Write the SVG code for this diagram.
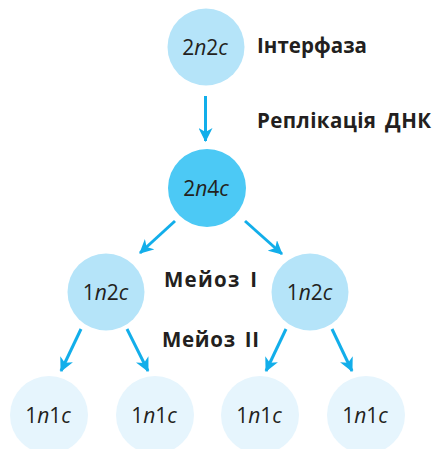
<svg xmlns="http://www.w3.org/2000/svg" width="433" height="449" viewBox="0 0 433 449">
<defs>
<marker id="ah" markerWidth="14" markerHeight="14" viewBox="0 0 14 14" refX="13" refY="7" orient="auto" markerUnits="userSpaceOnUse">
<path d="M0,0 L14,7 L0,14 L4,7 Z" fill="#12aeea"/>
</marker>
<style>
.c1{fill:#b5e4f9}
.c2{fill:#4cc9f5}
.c3{fill:#e6f5fd}
.lbl{font-family:"Open Sans","Noto Sans",sans-serif;font-size:21px;fill:#231f20;text-anchor:middle}
.lbl tspan.i{font-style:italic}
.t{font-family:"Open Sans","Noto Sans",sans-serif;font-size:20.5px;font-weight:bold;fill:#231f20;word-spacing:3px}
.ar{stroke:#12aeea;stroke-width:3;fill:none;marker-end:url(#ah)}
</style>
</defs>
<rect width="433" height="449" fill="#fff"/>
<g id="connectors">
<line class="ar" x1="205.5" y1="96" x2="205.5" y2="141"/>
<line class="ar" x1="175" y1="221" x2="140" y2="253"/>
<line class="ar" x1="245" y1="221" x2="282" y2="254"/>
<line class="ar" x1="81" y1="329" x2="61" y2="371"/>
<line class="ar" x1="127" y1="329" x2="148" y2="371"/>
<line class="ar" x1="286" y1="329" x2="266" y2="371"/>
<line class="ar" x1="332" y1="329" x2="352" y2="371"/>
</g>
<g id="n1"><circle class="c1" cx="206" cy="47" r="38.5"/><text class="lbl" x="205" y="55">2<tspan class="i">n</tspan>2<tspan class="i">c</tspan></text></g>
<g id="n2"><circle class="c2" cx="207" cy="188" r="39"/><text class="lbl" x="206" y="196">2<tspan class="i">n</tspan>4<tspan class="i">c</tspan></text></g>
<g id="n3"><circle class="c1" cx="106" cy="292" r="38.5"/><text class="lbl" x="105.5" y="300">1<tspan class="i">n</tspan>2<tspan class="i">c</tspan></text></g>
<g id="n4"><circle class="c1" cx="310" cy="292" r="38.5"/><text class="lbl" x="309.5" y="300">1<tspan class="i">n</tspan>2<tspan class="i">c</tspan></text></g>
<g id="n5"><circle class="c3" cx="49" cy="415" r="39"/><text class="lbl" x="48" y="423">1<tspan class="i">n</tspan>1<tspan class="i">c</tspan></text></g>
<g id="n6"><circle class="c3" cx="155" cy="415" r="39"/><text class="lbl" x="154" y="423">1<tspan class="i">n</tspan>1<tspan class="i">c</tspan></text></g>
<g id="n7"><circle class="c3" cx="260" cy="415" r="39"/><text class="lbl" x="259" y="423">1<tspan class="i">n</tspan>1<tspan class="i">c</tspan></text></g>
<g id="n8"><circle class="c3" cx="366" cy="415" r="39"/><text class="lbl" x="365" y="423">1<tspan class="i">n</tspan>1<tspan class="i">c</tspan></text></g>
<g id="labels">
<text class="t" x="257" y="53" textLength="110" lengthAdjust="spacing">Інтерфаза</text>
<text class="t" x="257" y="128" textLength="174" lengthAdjust="spacing">Реплікація ДНК</text>
<text class="t" x="164" y="287" textLength="93" lengthAdjust="spacing">Мейоз I</text>
<text class="t" x="162" y="347" textLength="97" lengthAdjust="spacing">Мейоз II</text>
</g>
</svg>
